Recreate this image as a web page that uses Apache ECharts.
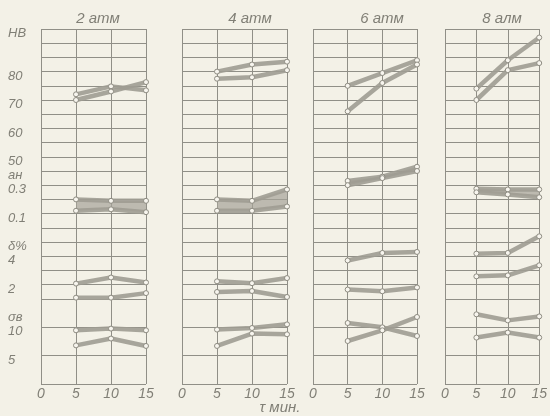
<!DOCTYPE html>
<html>
<head>
<meta charset="utf-8">
<title>HB, aн, δ, σв</title>
<script src="https://cdn.jsdelivr.net/npm/echarts@6/dist/echarts.min.js"></script>
<style>
html,body{margin:0;padding:0;background:#f3f1e7;}
#main{width:550px;height:416px;}
</style>
</head>
<body>
<div id="main"></div>
<script>
// давление
var panels = ['2 атм', '4 атм', '6 атм', '8 алм'];
// время выдержки, мин
var times = [5, 10, 15];
var xTicks = [0, 5, 10, 15];
// подписи шкалы слева (позиция в клетках сетки)
var yTickPos = [25, 22, 20, 18, 16, 15, 14, 12, 10, 9, 7, 5, 4, 2];
var yTickText = ['НВ', '80', '70', '60', '50', 'aн', '0.3', '0.1', 'δ%', '4', '2', 'σв', '10', '5'];

// твёрдость HB
var hbHigh = [[72, 74.8, 73.4], [80, 82.5, 83.5], [75, 79.5, 84], [74, 84, 92]];
var hbLow  = [[70, 73, 76.3], [77.5, 78, 80.5], [66, 76, 82.5], [70, 80.5, 83]];
// ударная вязкость aн
var akHigh = [[0.20, 0.19, 0.19], [0.20, 0.19, 0.27], [0.33, 0.36, 0.43], [0.275, 0.27, 0.27]];
var akLow  = [[0.12, 0.13, 0.11], [0.12, 0.12, 0.15], [0.30, 0.35, 0.40], [0.25, 0.235, 0.215]];
// удлинение δ, %
var dHigh = [[2.07, 2.5, 2.15], [2.23, 2.1, 2.46], [3.7, 4.23, 4.3], [4.18, 4.23, 5.4]];
var dLow  = [[1.08, 1.08, 1.4], [1.48, 1.55, 1.13], [1.65, 1.53, 1.8], [2.58, 2.65, 3.36]];
// предел прочности σв
var sHigh = [[9.45, 9.75, 9.45], [9.58, 9.86, 10.5], [10.74, 9.98, 8.45], [12.27, 11.2, 11.9]];
var sLow  = [[6.8, 8.0, 6.7], [6.7, 8.87, 8.75], [7.57, 9.45, 11.8], [8.17, 9.05, 8.17]];

(function(){
    var myChart = echarts.init(document.getElementById('main'));
    var ink = '#807f76';
    var gridColor = '#908f87';
    var font = '"Liberation Sans", sans-serif';

    // перевод величин в клетки общей сетки
    var hbU = function(v){ return 16 + (v - 50) / 5; };
    var akU = function(v){ return 12 + (v - 0.1) * 10; };
    var dU  = function(v){ return v + 5; };
    var sU  = function(v){ return v / 2.5; };

    var gridLeft = [41, 182, 313, 445];
    var gridWidth = [105, 105, 104, 103];

    // в нижней части (σв) клетки двойной высоты
    var lineColors = [];
    for (var k = 0; k <= 25; k++) {
        lineColors.push(k === 1 || k === 3 || k === 5 ? 'rgba(0,0,0,0)' : gridColor);
    }

    var grids = [], xAxes = [], yAxes = [], series = [];
    panels.forEach(function(name, p){
        grids.push({left: gridLeft[p], top: 29, width: gridWidth[p], height: 355});
        xAxes.push({
            type: 'value', gridIndex: p, min: 0, max: 15, interval: 5,
            axisLine: {show: false}, axisTick: {show: false},
            splitLine: {show: true, lineStyle: {color: gridColor, width: 1}},
            axisLabel: {
                margin: 3, color: ink, fontSize: 14, fontStyle: 'italic', fontFamily: font,
                formatter: function(v){ return xTicks.indexOf(v) >= 0 ? String(v) : ''; }
            }
        });
        yAxes.push({
            type: 'value', gridIndex: p, min: 0, max: 25, interval: 1,
            axisLine: {show: false}, axisTick: {show: false},
            splitLine: {show: true, lineStyle: {color: lineColors, width: 1}},
            axisLabel: {
                show: p === 0, align: 'left', verticalAlign: 'top', lineHeight: 9, margin: 33,
                color: ink, fontSize: 13, fontStyle: 'italic', fontFamily: font,
                formatter: function(v){
                    var i = yTickPos.indexOf(v);
                    return i >= 0 ? yTickText[i] : '';
                }
            }
        });

        var pairs = [
            [hbHigh[p], hbLow[p], hbU, false],
            [akHigh[p], akLow[p], akU, true],
            [dHigh[p], dLow[p], dU, false],
            [sHigh[p], sLow[p], sU, false]
        ];
        pairs.forEach(function(pr){
            var hi = pr[0].map(function(v, i){ return [times[i], pr[2](v)]; });
            var lo = pr[1].map(function(v, i){ return [times[i], pr[2](v)]; });
            if (pr[3]) {
                // заливка полосы aн
                series.push({
                    type: 'custom', xAxisIndex: p, yAxisIndex: p, silent: true,
                    data: [0], z: 1,
                    renderItem: function(params, api){
                        var pts = hi.map(function(d){ return api.coord(d); })
                            .concat(lo.slice().reverse().map(function(d){ return api.coord(d); }));
                        return {type: 'polygon', shape: {points: pts},
                            style: {fill: 'rgba(165,163,153,0.7)'}};
                    }
                });
            }
            [hi, lo].forEach(function(data){
                series.push({
                    type: 'line', xAxisIndex: p, yAxisIndex: p, data: data,
                    symbol: 'circle', symbolSize: 5, z: 2,
                    lineStyle: {color: 'rgba(158,156,146,0.9)', width: 4.5},
                    itemStyle: {color: '#f7f5ee', borderColor: '#8e8c82', borderWidth: 1}
                });
            });
        });
    });

    var graphic = panels.map(function(name, p){
        return {
            type: 'text', x: [98, 250, 382, 502][p], y: 19,
            style: {text: name, align: 'center', verticalAlign: 'middle',
                fill: ink, font: 'italic 15px ' + font}
        };
    });
    graphic.push({
        type: 'text', x: 280, y: 408,
        style: {text: 'τ мин.', align: 'center', verticalAlign: 'middle',
            fill: ink, font: 'italic 15px ' + font}
    });

    var option = {
        backgroundColor: '#f3f1e7',
        animation: false,
        grid: grids,
        xAxis: xAxes,
        yAxis: yAxes,
        graphic: graphic,
        series: series
    };
    myChart.setOption(option);
    window.addEventListener('resize', function(){
        myChart.resize();
    });
})();
</script>
</body>
</html>
